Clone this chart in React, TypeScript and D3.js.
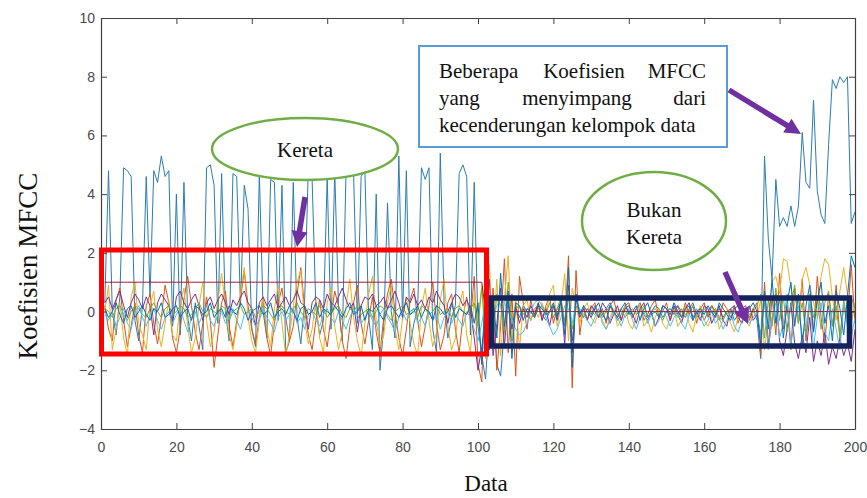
import { useEffect, useRef } from 'react';
import * as d3 from 'd3';

const width = 867;
const height = 498;

const xTicks = [0, 20, 40, 60, 80, 100, 120, 140, 160, 180, 200];
const yTicks = [-4, -2, 0, 2, 4, 6, 8, 10];

// MFCC coefficients, one value per data frame (x = 1..200)
const mfcc1 = [
  0.3, 4.8, 0.0, -0.8, 0.5, 4.9, 4.8, 4.6, -0.3, -1.0,
  0.2, 4.6, 0.5, 4.8, 4.4, 5.3, 4.6, 4.8, -0.5, 4.0,
  -0.8, 4.4, -0.2, -1.0, 0.3, -0.5, -1.3, 4.9, 5.0, 4.3,
  -0.4, 4.7, 0.0, -1.0, 4.7, 4.6, 0.2, 4.3, 3.5, -0.6,
  -1.2, 4.7, 0.0, -0.9, 4.5, 4.4, -0.3, 4.3, -1.4, -1.0,
  4.4, -0.2, -1.1, 0.3, 4.9, 4.5, 0.1, -0.8, -0.3, 4.6,
  -0.6, 4.8, 0.2, -1.0, 4.8, 4.9, 4.7, -0.4, 4.6, 4.8,
  -0.2, -1.3, 4.0, -2.0, -0.5, 3.7, 0.0, -0.9, 5.3, -0.3,
  4.8, -1.2, -0.4, 0.1, 4.9, 4.5, 4.9, -0.6, -1.4, 5.4,
  0.3, -0.9, -0.2, 0.2, 4.7, 5.0, 4.6, -0.8, 4.4, -0.5,
  -1.5, -2.3, -0.4, 0.3, -1.8, -2.2, -0.6, 0.5, -1.0, 0.1,
  -0.2, 0.2, 0.0, -0.3, 0.1, 0.2, -0.1, -0.3, 0.0, 0.2,
  -0.1, 0.3, -0.4, 0.6, -1.0, 0.4, 0.0, -0.2, 0.1, -0.1,
  0.2, -0.2, -0.1, 0.1, 0.3, 0.0, -0.3, -0.1, 0.2, 0.0,
  -0.2, 0.1, 0.2, -0.1, -0.3, 0.0, 0.2, 0.1, -0.2, 0.0,
  0.1, -0.1, 0.2, 0.0, -0.2, 0.1, 0.3, -0.1, 0.0, -0.3,
  0.0, 0.2, -0.1, 0.1, -0.2, 0.0, 0.1, -0.3, -0.1, 0.2,
  0.0, -0.2, 0.1, -0.3, -1.6, 5.3, 2.5, 1.1, 4.5, 2.9,
  3.2, 2.9, 3.6, 2.9, 3.6, 6.1, 4.4, 4.2, 7.2, 4.1,
  3.3, 3.0, 5.7, 7.9, 7.6, 8.0, 7.8, 8.0, 3.0, 3.4,
];

const mfcc2 = [
  0.2, -0.6, -1.0, 0.4, 0.8, -0.3, -1.2, -0.5, 0.3, -0.8,
  -1.4, 0.2, 0.6, -0.4, -1.1, -0.2, 0.9, 0.3, -0.9, -1.4,
  -0.6, 0.4, 1.2, 0.2, -0.7, -1.3, -0.4, 0.5, -0.3, -1.9,
  -0.8, 0.3, 0.7, -0.5, -1.2, -0.3, 0.4, 1.4, 0.2, -0.6,
  -1.1, -0.2, 0.5, -0.9, -1.5, -0.4, 0.3, 0.8, -0.2, -1.0,
  -0.5, 0.6, 1.5, 0.1, -0.8, -1.3, -0.3, 0.4, -0.6, -1.2,
  -0.2, 0.7, 0.2, -1.0, -1.6, -0.5, 0.3, 0.9, -0.4, -1.1,
  -0.3, 0.5, -0.7, -1.4, -0.2, 0.6, 1.1, 0.0, -0.9, -1.5,
  -0.6, 0.4, 0.8, -0.3, -1.2, -0.5, 0.2, 1.0, -0.4, -1.3,
  -0.8, 0.3, 0.6, -0.6, -1.4, -0.2, 0.5, -0.3, 1.2, -1.8,
  -2.4, 1.5, -1.2, 0.8, -2.0, -0.5, 1.8, -1.4, 0.6, -2.2,
  1.2, 0.3, -0.6, 0.4, -0.2, 0.3, -0.3, 0.2, 0.5, -0.4,
  0.1, 0.3, -0.5, 1.9, -2.6, 1.4, -0.8, 0.2, -0.3, 0.1,
  0.3, -0.2, 0.1, -0.4, 0.2, 0.4, -0.1, -0.3, 0.2, 0.3,
  -0.2, 0.1, 0.3, -0.3, -0.1, 0.2, 0.4, -0.2, 0.0, 0.3,
  -0.3, 0.1, 0.2, -0.2, 0.3, -0.1, 0.2, -0.4, 0.1, 0.3,
  -0.2, 0.2, 0.0, -0.3, 0.3, 0.1, -0.2, 0.2, -0.4, 0.1,
  0.2, -0.3, 0.1, 0.3, -1.5, 1.0, -1.2, 0.5, -0.8, 1.3,
  -0.6, 0.2, -1.3, 0.8, -0.4, 1.1, -1.0, 0.3, -0.7, 1.2,
  -0.2, -1.1, 0.6, -0.5, 0.9, -0.9, 0.2, -0.3, 1.6, -0.4,
];

const mfcc3 = [
  0.0, 0.9, -1.3, -0.6, 0.3, -0.9, -1.5, 0.5, 1.0, -0.4,
  -0.8, -1.3, 0.2, 0.7, -0.6, -1.2, -0.4, 0.4, -0.8, -1.0,
  0.3, 0.8, -0.5, -1.4, -0.9, 0.2, 1.0, -0.3, -1.2, -0.7,
  0.4, 1.3, 0.2, -0.8, -1.3, -0.5, 0.6, 1.5, -0.2, -1.0,
  -1.4, -0.3, 0.5, -0.6, -1.2, 0.1, 0.9, -0.4, -1.5, -0.8,
  0.2, 1.0, 1.4, -0.3, -1.1, -0.6, 0.4, -0.9, -1.4, 0.3,
  0.8, -0.5, -1.3, -0.7, 0.2, 1.1, -0.2, -1.0, -1.5, -0.4,
  0.6, 1.2, -0.3, -1.2, -0.8, 0.3, 0.9, -0.6, -1.3, -0.2,
  0.5, -0.4, -1.1, -1.5, 0.1, 0.8, -0.3, -1.2, -0.7, 0.4,
  1.1, -0.5, -1.3, -0.9, 0.2, 0.7, -0.8, -1.4, 0.6, -0.3,
  0.9, -1.6, 1.6, -0.8, 1.1, -1.5, 0.4, 1.9, -1.0, 0.5,
  -1.3, 0.2, 0.4, -0.3, 0.1, -0.2, 0.3, -0.1, 0.6, 0.9,
  -0.5, 0.2, 1.3, -1.0, 0.8, 0.2, -0.4, 0.1, 0.3, -0.2,
  -0.4, 0.0, -0.3, -0.6, -0.2, 0.1, -0.5, -0.3, 0.2, -0.4,
  -0.6, -0.1, 0.2, -0.5, -0.3, -0.7, -0.2, 0.1, -0.4, -0.6,
  -0.2, 0.1, -0.5, -0.3, 0.2, -0.4, -0.7, -0.1, 0.2, -0.3,
  -0.5, -0.2, 0.1, -0.6, -0.3, 0.0, -0.4, -0.7, -0.2, 0.1,
  -0.3, -0.5, 0.0, -0.2, 0.4, -1.3, -0.2, 1.0, 1.2, 0.6,
  1.8, 1.7, 0.8, 0.2, -0.4, 1.1, 1.5, 0.9, 0.3, -0.2,
  1.2, 1.8, 1.6, 0.5, -0.3, 0.7, 1.5, 0.6, -0.4, 0.3,
];

const mfcc4 = [
  0.3, 0.5, 0.1, 0.4, 0.7, 0.2, -0.2, 0.3, 0.6, 0.4,
  0.1, 0.5, 0.2, -0.8, 0.3, 0.6, 0.4, 0.2, -0.4, 0.5,
  0.7, 0.3, 0.1, 0.4, 0.6, 0.2, -0.3, 0.3, 0.5, 0.1,
  0.4, 0.6, 0.3, -0.1, 0.4, 0.2, 0.5, 0.7, 0.3, 0.1,
  -0.5, 0.3, 0.5, 0.2, 0.4, 0.6, 0.1, 0.3, 0.5, 0.2,
  0.4, 0.7, 0.3, 0.2, -0.6, 0.3, 0.5, 0.4, 0.1, 0.6,
  0.3, 0.2, 0.5, 0.8, 0.4, 0.1, 0.3, -0.7, 0.2, 0.5,
  0.4, 0.6, 0.2, 0.3, 0.5, 0.1, 0.4, 0.7, 0.3, -0.2,
  0.5, 0.3, 0.6, 0.2, 0.4, 0.1, 0.5, 0.3, 0.7, 0.4,
  0.2, -0.4, 0.3, 0.6, 0.5, 0.2, 0.4, 0.1, -0.9, -2.0,
  -1.2, -0.3, 1.1, -1.5, -0.4, 0.8, -1.2, 0.3, -0.6, 0.2,
  -0.4, 0.1, -0.2, 0.2, -0.1, 0.3, -0.3, 0.1, -0.5, 0.2,
  -0.3, 0.4, -1.1, 0.9, -1.4, 0.5, -0.2, 0.1, -0.3, 0.2,
  0.0, -0.2, 0.3, 0.1, -0.4, -0.1, 0.2, -0.3, 0.1, 0.2,
  -0.1, -0.4, 0.1, 0.3, -0.2, 0.0, -0.5, -0.2, 0.2, 0.1,
  -0.3, 0.2, -0.1, -0.4, 0.1, 0.3, -0.2, 0.0, -0.3, 0.2,
  0.1, -0.4, -0.1, 0.2, -0.3, -0.5, 0.1, 0.2, -0.2, -0.4,
  0.0, 0.2, -0.3, -0.1, -0.8, 0.4, -1.2, -0.3, 0.6, -1.0,
  -1.5, -0.6, 0.3, -1.1, -1.6, -0.8, -1.4, -0.2, -1.7, -1.0,
  -1.5, -0.7, -1.8, -1.2, -1.6, -0.9, -1.5, -1.1, -1.7, -0.6,
];

const mfcc5 = [
  0.1, 0.0, -0.2, 0.1, 0.2, -0.1, -0.3, 0.0, 0.2, 0.1,
  -0.1, -0.2, 0.1, 0.3, 0.0, -0.2, 0.1, 0.2, -0.1, 0.0,
  0.2, 0.1, -0.2, -0.1, 0.1, 0.3, 0.0, -0.2, 0.1, 0.0,
  -0.1, 0.2, 0.1, -0.3, 0.0, 0.1, 0.2, -0.1, 0.0, 0.1,
  -0.2, 0.0, 0.2, 0.1, -0.1, -0.3, 0.1, 0.2, 0.0, -0.1,
  0.1, 0.3, 0.0, -0.2, 0.1, 0.0, -0.1, 0.2, 0.1, -0.2,
  0.0, 0.1, 0.2, -0.1, -0.2, 0.1, 0.0, 0.2, -0.1, 0.0,
  0.1, -0.2, 0.0, 0.2, 0.1, -0.1, -0.3, 0.0, 0.1, 0.2,
  -0.1, 0.0, 0.1, -0.2, 0.2, 0.1, -0.1, 0.0, 0.2, -0.1,
  0.0, 0.1, -0.2, 0.1, 0.2, 0.0, -0.1, 0.1, 0.3, -0.5,
  0.8, -0.6, 0.4, -0.9, 0.6, 0.2, -0.7, 1.0, -0.3, 0.1,
  0.2, -0.1, 0.1, 0.0, -0.2, 0.1, 0.2, -0.1, 0.3, -0.2,
  0.1, 0.5, -0.4, 0.7, -0.6, 0.2, 0.0, -0.2, 0.1, 0.0,
  -0.1, 0.1, -0.2, 0.0, 0.2, -0.1, 0.0, 0.1, -0.2, 0.0,
  0.1, -0.1, 0.0, 0.2, -0.2, 0.0, 0.1, -0.1, -0.3, 0.0,
  0.1, 0.0, -0.2, 0.1, -0.1, 0.0, 0.2, -0.2, 0.0, 0.1,
  -0.1, 0.0, 0.1, -0.2, -0.3, 0.0, 0.1, -0.1, 0.0, -0.2,
  0.1, -0.1, 0.0, 0.2, 0.6, -0.9, 0.4, -0.5, 0.8, -0.3,
  0.5, -0.7, 0.2, 0.9, -0.4, 0.3, -0.8, 0.6, -0.2, 0.4,
  -0.6, 0.3, 0.7, -0.5, 0.2, -0.9, 0.4, -0.3, 0.5, 0.1,
];

const mfcc6 = [
  -0.1, -0.3, 0.0, -0.5, -0.2, 0.1, -0.4, -0.6, 0.0, 0.2,
  -0.2, -0.5, -0.1, 0.1, -0.3, -0.6, -0.2, 0.0, -0.4, -0.1,
  0.1, -0.3, -0.7, -0.2, 0.0, -0.4, -0.1, 0.2, -0.3, -0.5,
  -0.1, 0.0, -0.4, -0.2, 0.1, -0.3, -0.6, -0.1, 0.0, -0.2,
  -0.5, -0.3, 0.1, -0.2, -0.4, -0.7, -0.2, 0.0, -0.3, -0.1,
  0.1, -0.4, -0.2, -0.6, -0.1, 0.0, -0.3, -0.5, -0.1, 0.1,
  -0.2, -0.4, 0.0, -0.3, -0.6, -0.2, 0.1, -0.1, -0.4, -0.2,
  0.0, -0.3, -0.5, -0.1, 0.1, -0.2, -0.4, -0.7, -0.2, 0.0,
  -0.3, -0.1, 0.1, -0.4, -0.2, -0.5, 0.0, -0.3, -0.1, -0.6,
  -0.2, 0.0, -0.4, -0.1, -0.3, -0.5, 0.0, -0.2, -0.6, -1.0,
  -0.4, 0.3, -0.8, -0.2, 0.2, 0.4, 0.3, 0.0, -0.3, -0.6,
  -0.8, -0.7, -0.4, 0.0, 0.3, 0.4, 0.2, -0.2, -0.5, -0.8,
  -0.6, -0.2, 0.2, 0.1, -0.4, 0.3, 0.1, -0.1, -0.3, -0.5,
  -0.2, 0.1, -0.4, -0.6, -0.3, 0.0, -0.2, -0.5, -0.1, 0.1,
  -0.3, -0.6, -0.2, 0.0, -0.4, -0.1, -0.5, -0.3, 0.1, -0.2,
  -0.5, -0.2, 0.0, -0.4, -0.6, -0.1, -0.3, 0.1, -0.2, -0.5,
  -0.3, 0.0, -0.4, -0.2, -0.6, -0.3, 0.0, -0.5, -0.7, -0.3,
  -0.1, -0.4, -0.2, 0.0, -0.9, 0.5, -1.3, -0.2, 0.3, -0.9,
  -0.4, 0.6, -1.1, -0.3, 0.2, -0.8, -0.5, 0.4, -1.2, -0.2,
  0.3, -0.7, -1.0, 0.1, -0.6, -1.3, 0.2, -0.5, -0.9, -0.2,
];

const mfcc7 = [
  1, 1, 1, 1, 1, 1, 1, 1, 1, 1,
  1, 1, 1, 1, 1, 1, 1, 1, 1, 1,
  1, 1, 1, 1, 1, 1, 1, 1, 1, 1,
  1, 1, 1, 1, 1, 1, 1, 1, 1, 1,
  1, 1, 1, 1, 1, 1, 1, 1, 1, 1,
  1, 1, 1, 1, 1, 1, 1, 1, 1, 1,
  1, 1, 1, 1, 1, 1, 1, 1, 1, 1,
  1, 1, 1, 1, 1, 1, 1, 1, 1, 1,
  1, 1, 1, 1, 1, 1, 1, 1, 1, 1,
  1, 1, 1, 1, 1, 1, 1, 1, 1, 1,
  1, 0, 0, 0, 0, 0, 0, 0, 0, 0,
  0, 0, 0, 0, 0, 0, 0, 0, 0, 0,
  0, 0, 0, 0, 0, 0, 0, 0, 0, 0,
  0, 0, 0, 0, 0, 0, 0, 0, 0, 0,
  0, 0, 0, 0, 0, 0, 0, 0, 0, 0,
  0, 0, 0, 0, 0, 0, 0, 0, 0, 0,
  0, 0, 0, 0, 0, 0, 0, 0, 0, 0,
  0, 0, 0, 0, 0, 0, 0, 0, 0, 0,
  0, 0, 0, 0, 0, 0, 0, 0, 0, 0,
  0, 0, 0, 0, 0, 0, 0, 0, 0, 0,
];

const mfcc8 = [
  0.1, -0.2, 0.0, 0.3, -0.1, -0.4, 0.1, 0.2, -0.2, 0.0,
  0.2, -0.1, -0.3, 0.1, 0.0, 0.3, -0.2, -0.1, 0.1, 0.2,
  -0.2, 0.0, 0.1, -0.3, 0.2, 0.1, -0.1, 0.0, 0.3, -0.2,
  0.0, 0.1, -0.2, 0.2, 0.0, -0.1, 0.3, 0.1, -0.3, 0.0,
  0.1, 0.2, -0.1, 0.0, 0.3, -0.2, 0.0, 0.1, -0.1, 0.2,
  0.0, -0.3, 0.1, 0.2, -0.1, 0.0, 0.3, -0.2, 0.1, 0.0,
  -0.1, 0.2, 0.0, -0.2, 0.1, 0.3, -0.1, 0.0, 0.2, -0.3,
  0.1, 0.0, 0.2, -0.1, -0.3, 0.1, 0.2, 0.0, -0.2, 0.1,
  0.3, -0.1, 0.0, 0.2, -0.2, 0.1, 0.0, -0.3, 0.2, 0.1,
  -0.1, 0.0, 0.3, -0.2, 0.1, 0.0, -0.1, 0.2, -0.4, 0.3,
  -1.8, 0.9, -1.3, 0.4, -0.9, 1.3, -0.5, 0.7, -1.6, 0.3,
  0.2, -0.3, 0.1, 0.0, -0.2, 0.2, 0.1, -0.1, 0.0, 0.3,
  -0.2, 0.4, -0.8, 1.5, -1.9, 0.6, -0.1, 0.2, 0.0, -0.2,
  0.1, 0.3, -0.1, -0.3, 0.2, 0.0, -0.2, 0.1, 0.3, -0.1,
  0.0, 0.2, -0.3, 0.1, 0.3, -0.1, 0.0, -0.2, 0.2, 0.1,
  -0.1, 0.3, 0.0, -0.2, 0.1, 0.2, -0.3, 0.0, 0.1, -0.1,
  0.2, 0.0, -0.2, 0.3, 0.1, -0.1, -0.3, 0.1, 0.2, 0.0,
  -0.2, 0.1, 0.3, 0.0, -1.1, 0.7, -0.6, 1.1, -0.4, 0.5,
  -0.9, 0.3, 1.0, -0.5, 0.6, -1.2, 0.2, 0.9, -0.7, 0.4,
  1.0, -0.4, 0.2, -1.0, 0.7, 0.1, -0.8, 0.5, 1.9, 1.5,
];

const allSeries = [mfcc1, mfcc2, mfcc3, mfcc4, mfcc5, mfcc6, mfcc7, mfcc8];
const seriesColors = ['#2a7db0', '#d95319', '#edb120', '#7e2f8e', '#77ac30', '#4dbeee', '#a2142f', '#0072bd'];

const App = () => {
  const svgRef = useRef<SVGSVGElement>(null);

  useEffect(() => {
    const svg = d3.select(svgRef.current);
    svg.selectAll('*').remove();

    const x = d3.scaleLinear().domain([0, 200]).range([101, 855]);
    const y = d3.scaleLinear().domain([-4, 10]).range([429, 18]);
    const axisColor = '#404040';

    svg.append('rect').attr('width', width).attr('height', height).attr('fill', '#fff');

    svg.append('clipPath').attr('id', 'plot-clip')
      .append('rect')
      .attr('x', x(0)).attr('y', y(10))
      .attr('width', x(200) - x(0)).attr('height', y(-4) - y(10));

    // Lines
    const line = d3.line<number>()
      .x((d, i) => x(i + 1))
      .y(d => y(d));

    svg.append('g')
      .attr('clip-path', 'url(#plot-clip)')
      .selectAll('path')
      .data(allSeries)
      .join('path')
      .attr('d', d => line(d))
      .attr('fill', 'none')
      .attr('stroke', (d, i) => seriesColors[i])
      .attr('stroke-width', 1)
      .attr('stroke-linejoin', 'round');

    // Axes (MATLAB-style box with inward ticks)
    const styleAxis = g => {
      g.selectAll('path').attr('stroke', axisColor);
      g.selectAll('line').attr('stroke', axisColor);
      g.selectAll('text')
        .attr('fill', '#4a4a4a')
        .style('font-family', '"Liberation Sans", Arial, sans-serif')
        .style('font-size', '14px');
    };

    svg.append('g')
      .attr('transform', `translate(0,${y(-4)})`)
      .call(d3.axisBottom(x).tickValues(xTicks).tickSizeInner(-6).tickSizeOuter(0).tickPadding(13))
      .call(styleAxis);
    svg.append('g')
      .attr('transform', `translate(0,${y(10)})`)
      .call(d3.axisTop(x).tickValues(xTicks).tickSizeInner(-6).tickSizeOuter(0).tickFormat(() => ''))
      .call(styleAxis);
    svg.append('g')
      .attr('transform', `translate(${x(0)},0)`)
      .call(d3.axisLeft(y).tickValues(yTicks).tickSizeInner(-6).tickSizeOuter(0).tickPadding(6))
      .call(styleAxis);
    svg.append('g')
      .attr('transform', `translate(${x(200)},0)`)
      .call(d3.axisRight(y).tickValues(yTicks).tickSizeInner(-6).tickSizeOuter(0).tickFormat(() => ''))
      .call(styleAxis);
    svg.selectAll('.domain').attr('stroke-width', 1.2);

    // Axis titles
    svg.append('text')
      .attr('transform', 'translate(37,266) rotate(-90)')
      .attr('text-anchor', 'middle')
      .style('font-family', '"Liberation Serif", "Times New Roman", serif')
      .style('font-size', '27px')
      .attr('fill', '#111')
      .text('Koefisien MFCC');
    svg.append('text')
      .attr('x', 486).attr('y', 491)
      .attr('text-anchor', 'middle')
      .style('font-family', '"Liberation Serif", "Times New Roman", serif')
      .style('font-size', '23px')
      .attr('fill', '#111')
      .text('Data');

    // Highlight boxes
    svg.append('rect')
      .attr('x', 101.5).attr('y', 250).attr('width', 385).attr('height', 104)
      .attr('fill', 'none').attr('stroke', '#ff0000').attr('stroke-width', 5);
    svg.append('rect')
      .attr('x', 491.5).attr('y', 298).attr('width', 358).attr('height', 48)
      .attr('fill', 'none').attr('stroke', '#13235c').attr('stroke-width', 5.5);

    const serif = '"Liberation Serif", "Times New Roman", serif';

    // Ellipse labels
    const ellipses = [
      { cx: 305, cy: 149, rx: 93, ry: 31, lines: ['Kereta'], y0: 157 },
      { cx: 654, cy: 221, rx: 72, ry: 49, lines: ['Bukan', 'Kereta'], y0: 217 },
    ];
    ellipses.forEach(e => {
      svg.append('ellipse')
        .attr('cx', e.cx).attr('cy', e.cy).attr('rx', e.rx).attr('ry', e.ry)
        .attr('fill', '#fff').attr('stroke', '#70ad47').attr('stroke-width', 2.5);
      e.lines.forEach((t, i) => {
        svg.append('text')
          .attr('x', e.cx).attr('y', e.y0 + i * 27)
          .attr('text-anchor', 'middle')
          .style('font-family', serif).style('font-size', '21px')
          .attr('fill', '#111')
          .text(t);
      });
    });

    // Callout box
    svg.append('rect')
      .attr('x', 419).attr('y', 46).attr('width', 308).attr('height', 101)
      .attr('fill', '#fff').attr('stroke', '#5b9bd5').attr('stroke-width', 2);
    const words = [
      { t: 'Beberapa', x: 439, y: 78, a: 'start' },
      { t: 'Koefisien', x: 584, y: 78, a: 'middle' },
      { t: 'MFCC', x: 706, y: 78, a: 'end' },
      { t: 'yang', x: 439, y: 105, a: 'start' },
      { t: 'menyimpang', x: 577, y: 105, a: 'middle' },
      { t: 'dari', x: 706, y: 105, a: 'end' },
      { t: 'kecenderungan kelompok data', x: 439, y: 132, a: 'start' },
    ];
    svg.selectAll('text.callout')
      .data(words)
      .join('text')
      .attr('class', 'callout')
      .attr('x', d => d.x).attr('y', d => d.y)
      .attr('text-anchor', d => d.a)
      .style('font-family', serif).style('font-size', '21px')
      .attr('fill', '#111')
      .text(d => d.t);

    // Purple arrows
    const arrows = [
      [305, 197, 297, 247],
      [729, 90, 801, 134],
      [725, 272, 748, 324],
    ];
    arrows.forEach(([x1, y1, x2, y2]) => {
      const len = Math.hypot(x2 - x1, y2 - y1);
      const ux = (x2 - x1) / len;
      const uy = (y2 - y1) / len;
      const headLen = 16;
      const headW = 8;
      const bx = x2 - ux * headLen;
      const by = y2 - uy * headLen;
      svg.append('line')
        .attr('x1', x1).attr('y1', y1).attr('x2', bx + ux * 2).attr('y2', by + uy * 2)
        .attr('stroke', '#7030a0').attr('stroke-width', 5.5);
      svg.append('polygon')
        .attr('points', `${x2},${y2} ${bx - uy * headW},${by + ux * headW} ${bx + uy * headW},${by - ux * headW}`)
        .attr('fill', '#7030a0');
    });
  }, []);

  return (
    <svg
      ref={svgRef}
      width={width}
      height={height}
      style={{ position: 'absolute', left: 0, top: 0, display: 'block' }}
    />
  );
};

export default App;
